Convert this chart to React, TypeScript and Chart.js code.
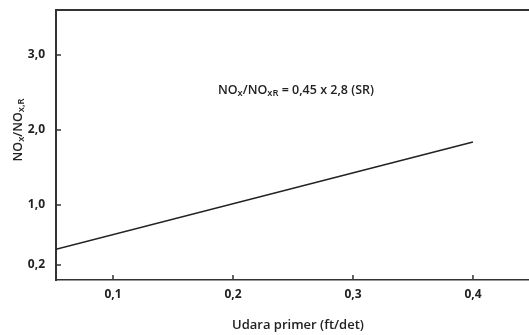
import React, { useEffect, useRef } from "react";
import { Chart, registerables } from "chart.js";

Chart.register(...registerables);

const xValues: number[] = [0.0525, 0.4];
const yValues: number[] = [0.41, 1.84];
const xTicks: number[] = [0.1, 0.2, 0.3, 0.4];
const yTicks: number[] = [0.2, 1.0, 2.0, 3.0];
const xTitle = "Udara primer (ft/det)";
const annotationParts: { t: string; sub?: boolean }[] = [
  { t: "NO" }, { t: "x", sub: true }, { t: "/NO" }, { t: "xR", sub: true }, { t: " = 0,45 x 2,8 (SR)" },
];
const yTitleParts: { t: string; sub?: boolean }[] = [
  { t: "NO" }, { t: "x", sub: true }, { t: "/NO" }, { t: "x,R", sub: true },
];

const FONT = "'Open Sans', 'Noto Sans', sans-serif";
const INK = "#222";

function drawParts(ctx: CanvasRenderingContext2D, parts: { t: string; sub?: boolean }[], x: number, y: number, size: number, align: "left" | "center", weight: number) {
  const widths = parts.map((p) => {
    ctx.font = `${weight} ${p.sub ? size * 0.75 : size}px ${FONT}`;
    return ctx.measureText(p.t).width;
  });
  const total = widths.reduce((a, b) => a + b, 0);
  let cx = align === "center" ? x - total / 2 : x;
  ctx.textAlign = "left";
  ctx.textBaseline = "alphabetic";
  parts.forEach((p, i) => {
    ctx.font = `${weight} ${p.sub ? size * 0.75 : size}px ${FONT}`;
    ctx.fillText(p.t, cx, p.sub ? y + size * 0.18 : y);
    cx += widths[i];
  });
}

const decor = {
  id: "decor",
  afterDraw(chart: any) {
    const { ctx, chartArea, scales } = chart;
    const xs = scales.x;
    const ys = scales.y;
    ctx.save();
    ctx.strokeStyle = "#333";
    ctx.lineWidth = 2;
    ctx.beginPath();
    ctx.moveTo(chartArea.left - 1, chartArea.top);
    ctx.lineTo(chartArea.right, chartArea.top);
    ctx.stroke();
    ctx.lineWidth = 1.5;
    xs.ticks.forEach((t: any) => {
      const px = xs.getPixelForValue(t.value);
      ctx.beginPath();
      ctx.moveTo(px, chartArea.bottom);
      ctx.lineTo(px, chartArea.bottom - 5);
      ctx.stroke();
    });
    ys.ticks.forEach((t: any) => {
      const py = ys.getPixelForValue(t.value);
      ctx.beginPath();
      ctx.moveTo(chartArea.left, py);
      ctx.lineTo(chartArea.left + 5, py);
      ctx.stroke();
    });
    ctx.fillStyle = INK;
    drawParts(ctx, annotationParts, xs.getPixelForValue(0.1875), ys.getPixelForValue(2.48), 12.5, "left", 600);
    ctx.font = `600 13px ${FONT}`;
    ctx.textAlign = "center";
    ctx.textBaseline = "middle";
    ctx.fillText(xTitle, 298, 325);
    ctx.translate(18, 130);
    ctx.rotate(-Math.PI / 2);
    drawParts(ctx, yTitleParts, 0, 4, 12.5, "center", 600);
    ctx.restore();
  },
};

export default function App() {
  const ref = useRef<HTMLCanvasElement>(null);
  useEffect(() => {
    const canvas = ref.current!;
    const chart = new Chart(canvas, {
      type: "scatter",
      data: {
        datasets: [
          {
            data: xValues.map((x, i) => ({ x, y: yValues[i] })),
            showLine: true,
            borderColor: INK,
            borderWidth: 1.6,
            pointRadius: 0,
            fill: false,
          },
        ],
      },
      options: {
        animation: false,
        responsive: false,
        layout: { padding: { top: 10, right: 0, left: 0, bottom: 0 } },
        plugins: { legend: { display: false }, tooltip: { enabled: false } },
        scales: {
          x: {
            type: "linear",
            min: 0.0525,
            max: 0.4467,
            afterBuildTicks: (s: any) => {
              s.ticks = xTicks.map((v) => ({ value: v }));
            },
            afterFit: (s: any) => {
              s.height = 55;
              s.paddingLeft = 0;
              s.paddingRight = 0;
            },
            grid: { drawOnChartArea: false, drawTicks: false },
            border: { display: true, color: "#333", width: 1.5 },
            ticks: {
              padding: 7,
              color: INK,
              font: { family: FONT, size: 12, weight: 700 as any },
              maxRotation: 0,
              callback: (v: any) => Number(v).toFixed(1).replace(".", ","),
            },
          },
          y: {
            type: "linear",
            min: 0,
            max: 3.6,
            afterBuildTicks: (s: any) => {
              s.ticks = yTicks.map((v) => ({ value: v }));
            },
            afterFit: (s: any) => {
              s.width = 56;
              s.paddingTop = 0;
              s.paddingBottom = 0;
            },
            grid: { drawOnChartArea: false, drawTicks: false },
            border: { display: true, color: "#333", width: 2 },
            ticks: {
              padding: 11,
              color: INK,
              font: { family: FONT, size: 12, weight: 700 as any },
              callback: (v: any) => Number(v).toFixed(1).replace(".", ","),
            },
          },
        },
      },
      plugins: [decor],
    });
    return () => chart.destroy();
  }, []);
  return (
    <div style={{ position: "absolute", left: 0, top: 0, width: 529, height: 335, background: "#fff" }}>
      <canvas ref={ref} width={529} height={335} style={{ width: 529, height: 335 }} />
    </div>
  );
}
